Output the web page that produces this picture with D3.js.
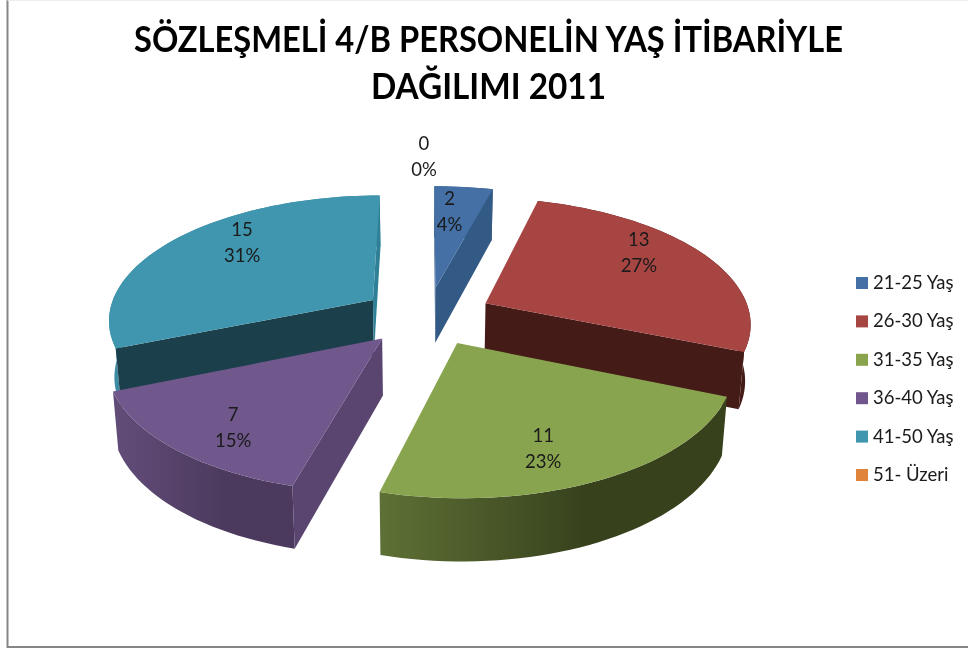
<!DOCTYPE html>
<html><head><meta charset="utf-8">
<script src="https://cdn.jsdelivr.net/npm/d3@7/dist/d3.min.js"></script>
<style>html,body{margin:0;padding:0;background:#fff}svg{display:block}</style>
</head><body><script>
const titleLines = ["SÖZLEŞMELİ 4/B PERSONELİN YAŞ İTİBARİYLE", "DAĞILIMI 2011"];
const categories = ["21-25 Yaş", "26-30 Yaş", "31-35 Yaş", "36-40 Yaş", "41-50 Yaş", "51- Üzeri"];
const values = [2, 13, 11, 7, 15, 0];
const percents = ["4%", "27%", "23%", "15%", "31%", "0%"];
const topColors = ["#4470a6", "#a74543", "#89a44e", "#70578c", "#3f96ae", "#e0843a"];
const cutColors = ["#335a84", "#451b18", "#3a451f", "#5a4570", "#1b3f4b", "#c06a20"];
const endCutColors = ["#335a84", "#451b18", "#3a451f", "#5a4570", "#2f7f96", "#c06a20"];
const wallLeft = ["#335a84", "#451b18", "#5e7035", "#614c78", "#3a8ba3", "#c06a20"];
const wallRight = ["#335a84", "#451b18", "#37421d", "#4c3a5e", "#3a8ba3", "#c06a20"];
const labelRadius = [0.72, 0.776, 0.765, 0.785, 0.756, 1.337];
const labelShift = [-2.4, -8.4, 5.65, -3.35, 9, -0.6];

const W = 968, H = 649;
// ground-plane projection of the tilted, exploded pie
const P = {x0: 427, y0: 316, S: 265, T: 124, a: 0.145, explodeX: 0.25, explodeY: 0.236, depth: 56, depthPersp: 0.6, taper: 0.983};
const rad = d => d * Math.PI / 180;

const svg = d3.select("body").append("svg").attr("width", W).attr("height", H);
const defs = svg.append("defs");
defs.append("filter").attr("id", "soft").append("feGaussianBlur").attr("stdDeviation", 0.35);
svg.append("rect").attr("width", W).attr("height", H).attr("fill", "#fff");
svg.append("path").attr("d", `M7.5 0V647H${W}`).attr("fill", "none").attr("stroke", "#868686").attr("stroke-width", 2);
svg.append("path").attr("d", `M7.5 0.5H${W}`).attr("fill", "none").attr("stroke", "#eeeeee").attr("stroke-width", 1);

const font = "Lato, Carlito, 'Open Sans', sans-serif";
const titleWidths = [709, 235];
svg.selectAll("text.title").data(titleLines).join("text").attr("class", "title")
  .attr("x", 488.5).attr("y", (d, i) => 52 + i * 47)
  .attr("text-anchor", "middle").attr("font-family", font).attr("font-weight", 700)
  .attr("font-size", 36).attr("fill", "#000").attr("filter", "url(#soft)")
  .attr("textLength", (d, i) => titleWidths[i]).attr("lengthAdjust", "spacingAndGlyphs")
  .text(d => d);

const pie = d3.pie().sort(null).startAngle(0).endAngle(2 * Math.PI);
const arcs = pie(values);
const color = d3.scaleOrdinal().domain(categories).range(topColors);
const line = d3.line();

function project(theta, r, mid, z) {
  const X = r * Math.sin(theta) + P.explodeX * Math.sin(mid);
  const Y = -r * Math.cos(theta) - P.explodeY * Math.cos(mid);
  const w = 1 / (1 - P.a * Y);
  const bottom = z ? 1 : 0;
  const sx = P.S * X * w * (bottom ? P.taper : 1);
  return [P.x0 + sx, P.y0 + P.T * Y * w + bottom * P.depth * (1 + P.depthPersp * (w - 1))];
}

const order = arcs.map((d, i) => i)
  .filter(i => values[i] > 0)
  .sort((a, b) => d3.descending(Math.cos((arcs[a].startAngle + arcs[a].endAngle) / 2),
                               Math.cos((arcs[b].startAngle + arcs[b].endAngle) / 2)));

const pieG = svg.append("g");
order.forEach(i => {
  const d = arcs[i], mid = (d.startAngle + d.endAngle) / 2;
  const n = Math.max(8, Math.ceil((d.endAngle - d.startAngle) / rad(2)));
  const thetas = d3.range(n + 1).map(k => d.startAngle + (d.endAngle - d.startAngle) * k / n);
  const g = pieG.append("g");
  const rimTop = thetas.map(t => project(t, 1, mid, 0));
  const rimBot = thetas.map(t => project(t, 1, mid, 1));
  const apexT = project(0, 0, mid, 0), apexB = project(0, 0, mid, 1);

  // outer wall (sweep of the rim), shaded left to right
  const allX = d3.extent(rimBot.filter(p => p[1] > apexB[1] - 40), p => p[0]);
  const gid = "wall" + i;
  const lg = defs.append("linearGradient").attr("id", gid).attr("gradientUnits", "userSpaceOnUse")
    .attr("x1", allX[0]).attr("x2", allX[1]).attr("y1", 0).attr("y2", 0);
  lg.append("stop").attr("offset", 0).attr("stop-color", wallLeft[i]);
  lg.append("stop").attr("offset", 0.6).attr("stop-color", wallRight[i]);
  lg.append("stop").attr("offset", 1).attr("stop-color", wallRight[i]);
  g.append("path").attr("d", line(rimTop.concat(rimBot.slice().reverse())) + "Z").attr("fill", `url(#${gid})`);

  // cut faces, culled by facing direction
  const s0 = rimTop[0], s1 = rimTop[n];
  if (s0[0] - apexT[0] < -1)
    g.append("path").attr("d", line([apexT, s0, rimBot[0], apexB]) + "Z").attr("fill", cutColors[i]);
  if (s1[0] - apexT[0] > 1)
    g.append("path").attr("d", line([apexT, s1, rimBot[n], apexB]) + "Z").attr("fill", endCutColors[i]);

  // top face
  g.append("path").attr("d", line([apexT].concat(rimTop)) + "Z").attr("fill", color(categories[i]));
});

// data labels
const labelG = svg.append("g").attr("font-family", font).attr("font-size", 18.5).attr("fill", "#1a1a1a").attr("text-anchor", "middle").attr("filter", "url(#soft)");
arcs.forEach((d, i) => {
  const mid = (d.startAngle + d.endAngle) / 2;
  const p = project(mid + rad(labelShift[i]), labelRadius[i], mid, 0);
  labelG.append("text").attr("x", p[0]).attr("y", p[1] - 7).text(values[i]);
  labelG.append("text").attr("x", p[0]).attr("y", p[1] + 19).text(percents[i]);
});

// legend
const legendY = d3.scalePoint().domain(categories).range([283, 475]);
const leg = svg.append("g").attr("filter", "url(#soft)").selectAll("g").data(categories).join("g")
  .attr("transform", d => `translate(856,${legendY(d)})`);
leg.append("rect").attr("x", 0).attr("y", -6).attr("width", 12).attr("height", 12).attr("fill", d => color(d));
leg.append("text").attr("x", 17).attr("y", 6).attr("font-family", font).attr("font-size", 18.5).attr("fill", "#1a1a1a").text(d => d);
</script></body></html>
